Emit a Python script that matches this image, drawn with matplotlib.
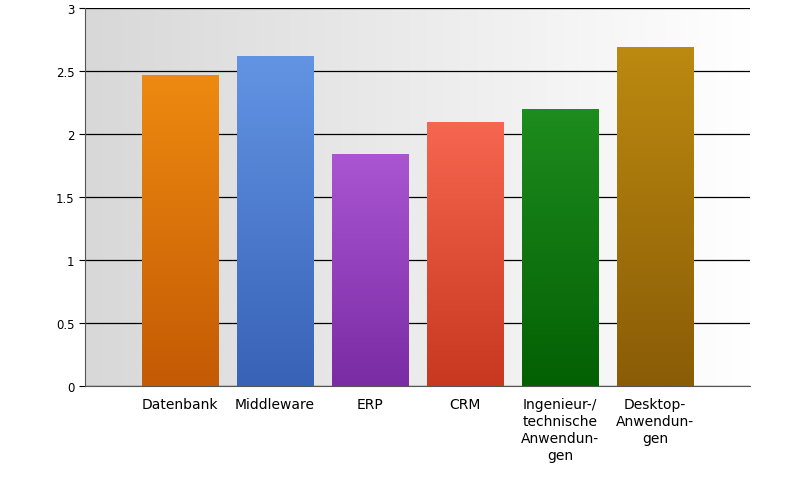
import matplotlib
matplotlib.use("Agg")
import matplotlib.pyplot as plt
import numpy as np
from matplotlib.colors import LinearSegmentedColormap

categories = ["Datenbank", "Middleware", "ERP", "CRM", "Ingenieur-/\ntechnische\nAnwendun-\ngen", "Desktop-\nAnwendun-\ngen"]
values = [2.47, 2.62, 1.84, 2.10, 2.20, 2.69]
top_colors = ["#EE8A10", "#6394E4", "#AA55D2", "#F66650", "#1E8C1E", "#BC8A10"]
bot_colors = ["#C45A04", "#3862B6", "#7A2CA4", "#C83820", "#036003", "#8A5C06"]

fig = plt.figure(figsize=(8, 4.81), dpi=100)
ax = fig.add_axes([0.106, 0.195, 0.8315, 0.786])
ax.set_xlim(-1, 6)
ax.set_ylim(0, 3)

# background gradient
bg = np.linspace(0, 1, 256).reshape(1, -1)
bgmap = LinearSegmentedColormap.from_list("bg", ["#D8D8D8", "#FFFFFF"])
ax.imshow(bg, extent=[-1, 6, 0, 3], aspect="auto", cmap=bgmap, zorder=0)

ax.yaxis.grid(True, color="black", linewidth=0.9, zorder=1)
ax.set_axisbelow(True)

x = np.arange(len(categories))
bars = ax.bar(x, values, width=0.8, zorder=2, color="none", edgecolor="none")
grad = np.linspace(1, 0, 256).reshape(-1, 1)
for b, tc, bc in zip(bars, top_colors, bot_colors):
    cm = LinearSegmentedColormap.from_list("c", [bc, tc])
    im = ax.imshow(grad, extent=[b.get_x(), b.get_x() + b.get_width(), 0, b.get_height()],
                   aspect="auto", cmap=cm, zorder=2)
    im.set_clip_path(b)
ax.set_xlim(-1, 6)
ax.set_ylim(0, 3)

ax.set_xticks(x)
ax.set_xticklabels(categories, fontsize=10, linespacing=1.25)
ax.tick_params(axis="x", length=0, pad=8)
ax.set_yticks([0, 0.5, 1, 1.5, 2, 2.5, 3])
ax.set_yticklabels(["0", "0.5", "1", "1.5", "2", "2.5", "3"], fontsize=8.5)
ax.tick_params(axis="y", length=4)
for s in ["top", "right"]:
    ax.spines[s].set_visible(False)
ax.spines["left"].set_color("#555555")
ax.spines["bottom"].set_color("#555555")

fig.savefig("out.png", dpi=100)
